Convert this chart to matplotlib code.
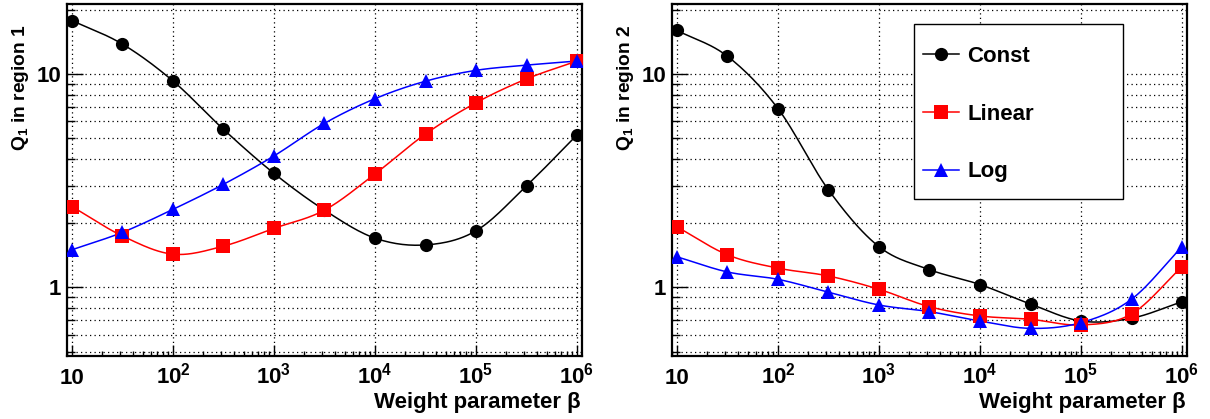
import numpy as np
import matplotlib
matplotlib.use('Agg')
import matplotlib.pyplot as plt
from matplotlib.ticker import LogLocator, NullFormatter
from matplotlib.patches import Rectangle

# ---------------- data ----------------
beta = [10, 31.62, 100, 316.2, 1000, 3162, 1e4, 31623, 1e5, 316228, 1e6]

r1_const = [17.8, 13.8, 9.27, 5.5, 3.42, 2.30, 1.70, 1.58, 1.84, 2.99, 5.18]
r1_linear = [2.39, 1.74, 1.43, 1.56, 1.89, 2.30, 3.40, 5.23, 7.33, 9.48, 11.5]
r1_log = [1.50, 1.81, 2.32, 3.04, 4.13, 5.87, 7.66, 9.25, 10.4, 11.0, 11.5]

r2_const = [16.0, 12.1, 6.88, 2.86, 1.55, 1.21, 1.03, 0.835, 0.695, 0.716, 0.856]
r2_linear = [1.92, 1.42, 1.23, 1.13, 0.979, 0.811, 0.734, 0.708, 0.666, 0.75, 1.25]
r2_log = [1.39, 1.18, 1.09, 0.948, 0.826, 0.769, 0.695, 0.642, 0.683, 0.879, 1.55]

series_names = ["Const", "Linear", "Log"]
x_tick_values = [10, 1e2, 1e3, 1e4, 1e5, 1e6]
x_tick_labels = ["10", r"$10^{2}$", r"$10^{3}$", r"$10^{4}$", r"$10^{5}$", r"$10^{6}$"]
y_tick_values = [1, 10]
y_tick_labels = ["1", "10"]
y_titles = [r"$Q_{1}$ in region 1", r"$Q_{1}$ in region 2"]
x_title = "Weight parameter β"

# ---------------- style ----------------
plt.rcParams['font.family'] = ['Liberation Sans', 'DejaVu Sans']
plt.rcParams['font.weight'] = 'bold'
plt.rcParams['mathtext.fontset'] = 'custom'
plt.rcParams['mathtext.rm'] = 'Liberation Sans:bold'
plt.rcParams['mathtext.it'] = 'Liberation Sans:bold'
plt.rcParams['mathtext.bf'] = 'Liberation Sans:bold'
plt.rcParams['mathtext.default'] = 'rm'

FS = 16
FS_YT = 13.8
colors = ['black', '#ff0000', '#0000ff']
markers = ['o', 's', '^']


def smooth_curve(x, y, n=24):
    """Catmull-Rom curve through the points in log-log space (line drawing only)."""
    lx, ly = np.log10(np.asarray(x, float)), np.log10(np.asarray(y, float))
    px = np.concatenate([[2 * lx[0] - lx[1]], lx, [2 * lx[-1] - lx[-2]]])
    py = np.concatenate([[2 * ly[0] - ly[1]], ly, [2 * ly[-1] - ly[-2]]])
    t = np.linspace(0, 1, n, endpoint=False)
    xs, ys = [], []
    for i in range(1, len(px) - 2):
        for P, out in ((px, xs), (py, ys)):
            p0, p1, p2, p3 = P[i - 1], P[i], P[i + 1], P[i + 2]
            out.append(0.5 * (2 * p1 + (-p0 + p2) * t
                              + (2 * p0 - 5 * p1 + 4 * p2 - p3) * t ** 2
                              + (-p0 + 3 * p1 - 3 * p2 + p3) * t ** 3))
    xs.append([lx[-1]])
    ys.append([ly[-1]])
    return 10 ** np.concatenate(xs), 10 ** np.concatenate(ys)


W, H = 1210, 419
fig = plt.figure(figsize=(W / 100, H / 100), dpi=100)

ax_boxes = [(67, 4, 582, 356), (672, 4, 1187, 356)]
data_sets = [[r1_const, r1_linear, r1_log], [r2_const, r2_linear, r2_log]]

for k, (x0, y0, x1, y1) in enumerate(ax_boxes):
    ax = fig.add_axes([x0 / W, 1 - y1 / H, (x1 - x0) / W, (y1 - y0) / H])
    ax.set_xscale('log')
    ax.set_yscale('log')
    ax.set_xlim(10 ** (1 - 5 / 101), 10 ** (6 + 5 / 101))
    ax.set_ylim(10 ** -0.322, 10 ** 1.328)

    handles = []
    for vals, c, m in zip(data_sets[k], colors, markers):
        sx, sy = smooth_curve(beta, vals)
        ln, = ax.plot(sx, sy, '-', color=c, lw=1.1, zorder=3)
        mk, = ax.plot(beta, vals, ls='none', marker=m, color=c, ms=9.5,
                      markeredgewidth=0, zorder=4)
        handles.append((ln, mk))

    # ticks
    ax.set_xticks(x_tick_values)
    ax.set_xticklabels(x_tick_labels)
    ax.xaxis.set_minor_locator(LogLocator(base=10, subs=np.arange(2, 10), numticks=50))
    ax.xaxis.set_minor_formatter(NullFormatter())
    ax.set_yticks(y_tick_values)
    ax.set_yticklabels(y_tick_labels)
    ax.yaxis.set_minor_locator(LogLocator(base=10, subs=np.arange(2, 10), numticks=50))
    ax.yaxis.set_minor_formatter(NullFormatter())

    ax.tick_params(axis='both', which='both', direction='in', top=False, right=False,
                   labelsize=FS, width=1.0, color='black')
    ax.tick_params(axis='x', which='major', length=8, pad=20)
    ax.tick_params(axis='x', which='minor', length=3.6)
    ax.tick_params(axis='y', which='major', length=11.5, pad=4.3)
    ax.tick_params(axis='y', which='minor', length=5.8)
    for t in ax.xaxis.get_major_ticks():
        t.label1.set_verticalalignment('baseline')

    # grid
    grid_kw = dict(color='black', linestyle=(0, (1, 2.6)), linewidth=0.9)
    ax.grid(True, which='major', axis='x', **grid_kw)
    ax.grid(True, which='both', axis='y', **grid_kw)
    ax.set_axisbelow(True)

    for s in ax.spines.values():
        s.set_linewidth(1.6)

    # titles
    fig.text((x0 - 42) / W, 1 - 25 / H, y_titles[k], rotation=90, rotation_mode='anchor',
             ha='right', va='baseline', fontsize=FS_YT, fontweight='bold')
    fig.text((x1 - 1) / W, 1 - 408 / H, x_title, ha='right', va='baseline',
             fontsize=FS, fontweight='bold')

    if k == 1:
        box = Rectangle((914 / W, 1 - 199 / H), 209 / W, 175 / H, transform=fig.transFigure,
                        facecolor='white', edgecolor='black', linewidth=1.0, zorder=9)
        ax.add_artist(box)
        leg = ax.legend(handles, series_names,
                        loc='upper left',
                        bbox_to_anchor=(922.7 / W, 1 - 46 / H),
                        bbox_transform=fig.transFigure, borderaxespad=0,
                        fontsize=FS, frameon=False,
                        handlelength=1.65, handletextpad=0.36, borderpad=0,
                        labelspacing=1.65, numpoints=1)
        leg.set_zorder(10)
        for txt in leg.get_texts():
            txt.set_fontweight('bold')

fig.savefig('out.png', dpi=100)
